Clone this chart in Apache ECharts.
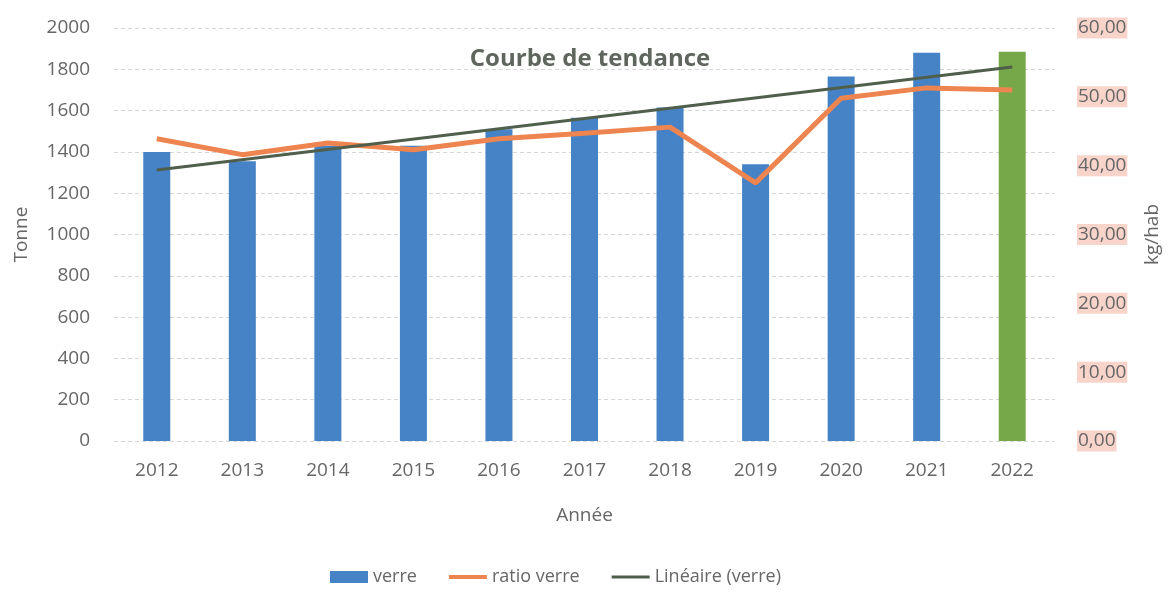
<!DOCTYPE html>
<html><head><meta charset="utf-8">
<script src="https://cdn.jsdelivr.net/npm/echarts@6/dist/echarts.min.js"></script>
<style>html,body{margin:0;padding:0;background:#fff}#c{width:1170px;height:593px}</style>
</head><body><div id="c"></div>
<script>
const years = ['2012','2013','2014','2015','2016','2017','2018','2019','2020','2021','2022'];
const verre = [1400,1355,1430,1430,1510,1565,1615,1340,1765,1880,1885];
const ratioVerre = [43.9,41.6,43.3,42.3,43.9,44.7,45.6,37.5,49.8,51.3,51.0];
const trendVerre = [1312,null,null,null,null,null,null,null,null,null,1811];
const highlightYear = '2022';

const FONT = 'Open Sans';
const TXT = '#666666';
const BLUE = '#4682c6', GREEN = '#76a84a', ORANGE = '#ee8550', TREND = '#4f5f4c';

const chart = echarts.init(document.getElementById('c'));
chart.setOption({
  animation:false,
  textStyle:{fontFamily:FONT},
  title:{text:'Courbe de tendance', left:585, top:42, textAlign:'center',
    textStyle:{fontFamily:FONT, fontSize:24, fontWeight:'bold', color:'#5f665e'}},
  grid:{left:114, right:115, top:28, bottom:152},
  legend:{bottom:2, left:325, itemGap:32, itemWidth:38, itemHeight:12,
    textStyle:{fontFamily:FONT, fontSize:18, color:TXT},
    data:[{name:'verre', icon:'rect'},{name:'ratio verre', icon:'path://M0,0H40V4H0Z'},{name:'Linéaire (verre)', icon:'path://M0,0H40V3H0Z'}]},
  xAxis:{type:'category', data:years, name:'Année', nameLocation:'middle', nameGap:65,
    nameTextStyle:{fontFamily:FONT, fontSize:19, color:TXT},
    axisLine:{show:false}, axisTick:{show:false},
    axisLabel:{fontFamily:FONT, fontSize:19, color:TXT, margin:20}},
  yAxis:[
    {type:'value', min:0, max:2000, interval:200, name:'Tonne', nameLocation:'middle', nameGap:83,
     nameTextStyle:{fontFamily:FONT, fontSize:19, color:TXT},
     axisLabel:{fontFamily:FONT, fontSize:19, color:TXT, margin:24, formatter:v=>String(v)},
     splitLine:{lineStyle:{color:'#d6d6d6', type:[4,3], width:1}}},
    {type:'value', min:0, max:60, interval:10, name:'kg/hab', nameLocation:'middle', nameGap:88, nameRotate:90,
     nameTextStyle:{fontFamily:FONT, fontSize:19, color:TXT},
     axisLabel:{fontFamily:FONT, fontSize:19, color:TXT, margin:22, backgroundColor:'#f8d4cb', padding:[2,1,0,1],
       formatter:v=>v.toFixed(2).replace('.',',')},
     splitLine:{show:false}}
  ],
  series:[
    {name:'verre', type:'bar', barWidth:27, itemStyle:{color:BLUE},
     data:verre.map((v,i)=> years[i]===highlightYear ? {value:v, itemStyle:{color:GREEN}} : v)},
    {name:'ratio verre', type:'line', yAxisIndex:1, data:ratioVerre, symbol:'none',
     lineStyle:{color:ORANGE, width:5}, itemStyle:{color:ORANGE}, z:3},
    {name:'Linéaire (verre)', type:'line', data:trendVerre, connectNulls:true, symbol:'none',
     lineStyle:{color:TREND, width:3}, itemStyle:{color:TREND}, z:4}
  ]
});
</script></body></html>
